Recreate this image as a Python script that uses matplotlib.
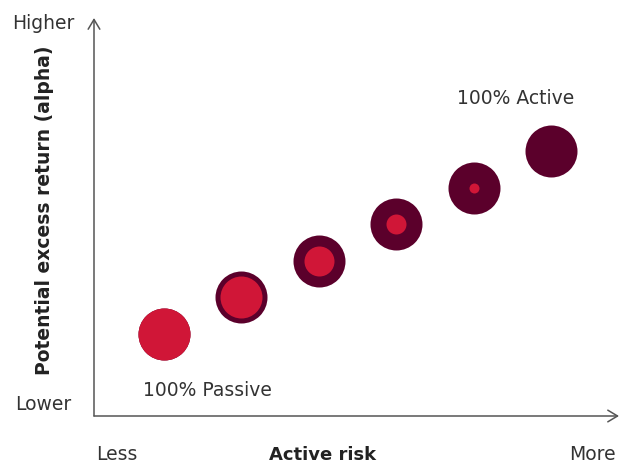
import numpy as np
import matplotlib
matplotlib.use("Agg")
import matplotlib.pyplot as plt

# active share of each blend (%), used for both axes positions
active_share = [0, 20, 40, 60, 80, 100]
alpha_level = [0, 20, 40, 60, 80, 100]
# radius of the passive (red) core, in pixels
passive_core = [26, 21, 15, 10, 5, 0]
outer_radius = 26

dark = "#5b002b"
red = "#d01637"
txt = "#333333"

plt.rcParams['font.family'] = ['DejaVu Sans']

fig = plt.figure(figsize=(6.21, 4.64), dpi=100)
ax = fig.add_axes([0, 0, 1, 1])
# pixel -> data mapping: x 164..551 for 0..100, y 335..152 for 0..100
W, H = 621, 464
px_x = 3.87
px_y = 1.83
ax.set_xlim(-164 / px_x, (W - 164) / px_x)
ax.set_ylim(-(H - 335) / px_y, (335) / px_y)
ax.axis('off')

def pts(r):
    return (2 * r * 0.72) ** 2

ax.scatter(active_share, alpha_level, s=pts(outer_radius), color=dark, lw=0, zorder=2)
for x, y, r in zip(active_share, alpha_level, passive_core):
    if r > 0:
        ax.scatter([x], [y], s=pts(r), color=red, lw=0, zorder=3)

# axes arrows
def d(px, py):
    return ((px - 164) / px_x, (335 - py) / px_y)

arr = dict(arrowstyle='->,head_length=0.5,head_width=0.3', color='#555555', lw=1.1,
           mutation_scale=14, shrinkA=0, shrinkB=0)
ax.annotate('', xy=d(94, 19), xytext=d(94, 417), arrowprops=arr)
ax.annotate('', xy=d(619, 417), xytext=d(94, 417), arrowprops=arr)

fs = 13.5
ax.text(*d(43, 23), 'Higher', ha='center', va='center', fontsize=fs, color=txt)
ax.text(*d(43, 404), 'Lower', ha='center', va='center', fontsize=fs, color=txt)
ax.text(*d(117, 455), 'Less', ha='center', va='center', fontsize=fs, color=txt)
ax.text(*d(592, 455), 'More', ha='center', va='center', fontsize=fs, color=txt)
ax.text(*d(323, 455), 'Active risk', ha='center', va='center', fontsize=fs - 0.5,
        color='#222222', fontweight='bold')
ax.text(*d(45, 210), 'Potential excess return (alpha)', ha='center', va='center',
        fontsize=13.5, color='#222222', fontweight='bold', rotation=90)
ax.text(*d(516, 98), '100% Active', ha='center', va='center', fontsize=fs, color=txt)
ax.text(*d(207, 391), '100% Passive', ha='center', va='center', fontsize=fs, color=txt)

fig.savefig('out.png', dpi=100)
